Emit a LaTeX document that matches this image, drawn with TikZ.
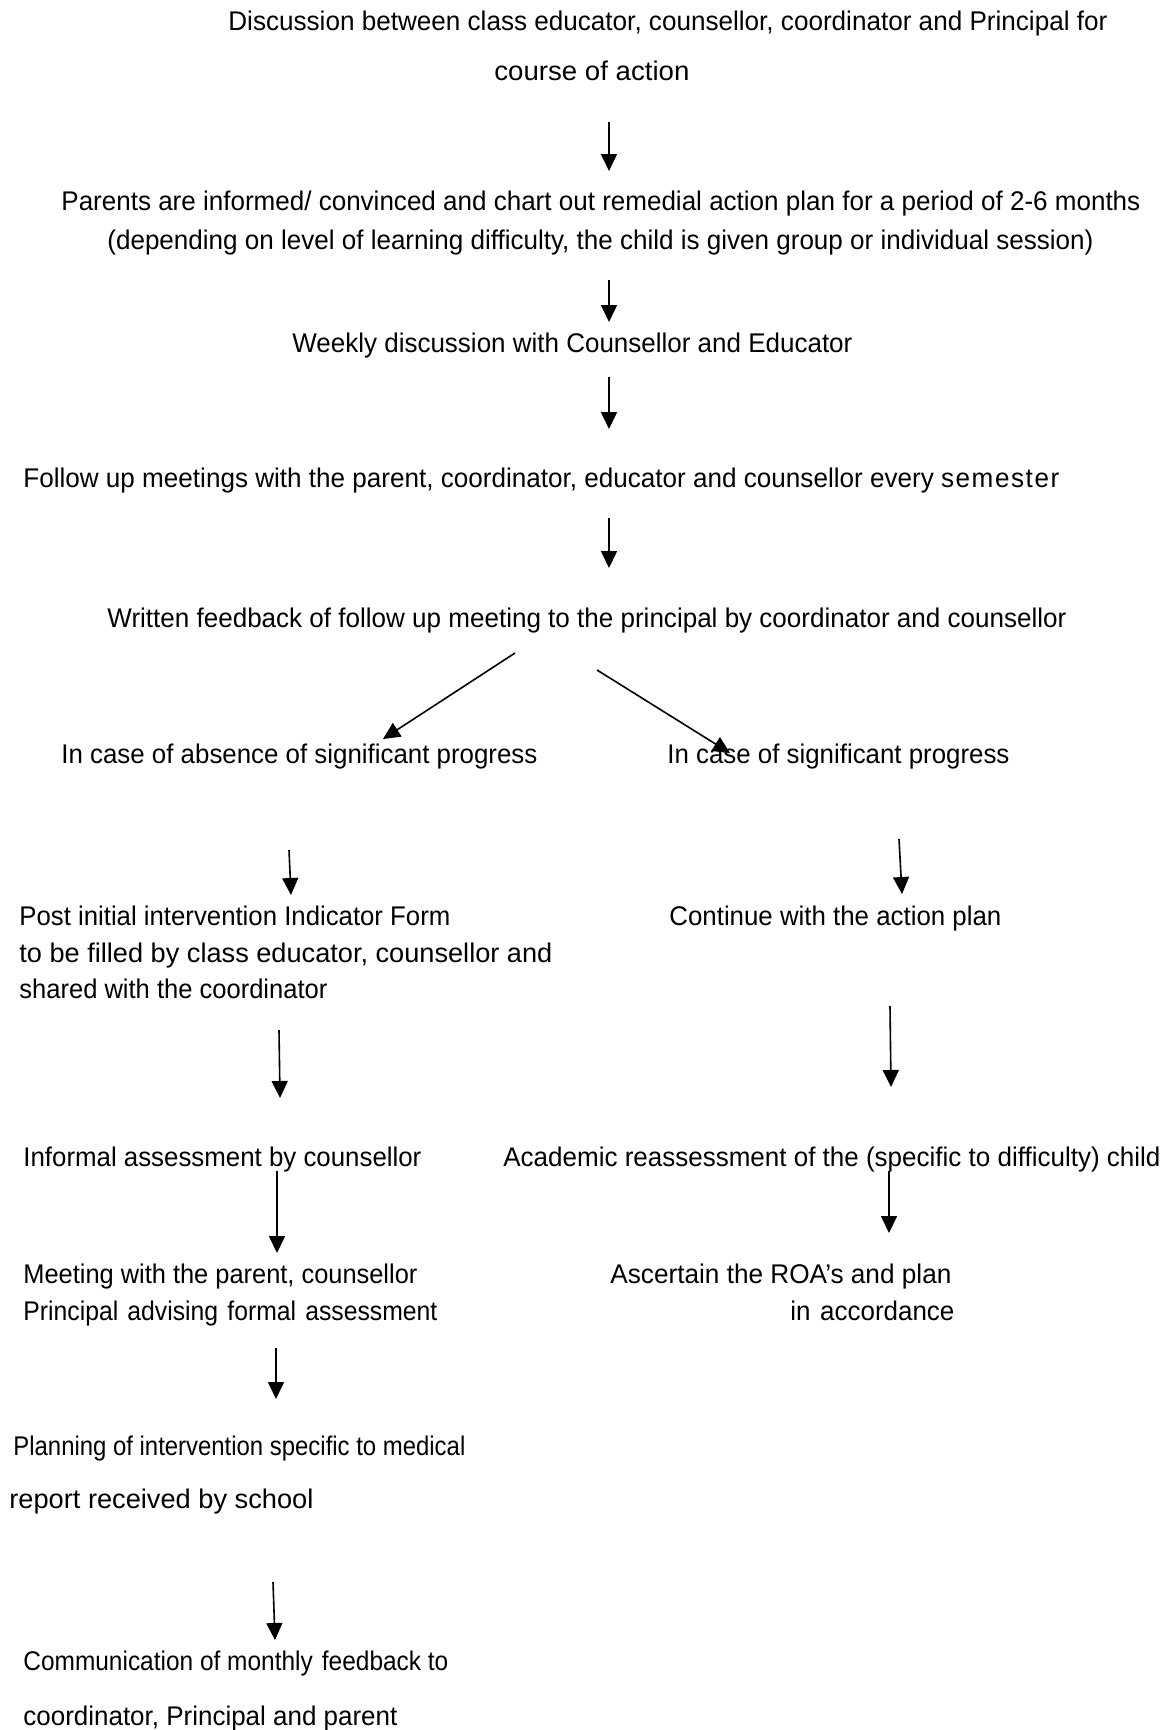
\documentclass[tikz,border=0pt]{standalone}
\usepackage{fontspec}
\usepackage{graphicx}
\setmainfont{Liberation Sans}
\usetikzlibrary{arrows.meta}
\newcommand\fitw[2]{\resizebox{#1pt}{\height}{#2}}
\begin{document}
\begin{tikzpicture}[x=0.5pt,y=-0.5pt,
  txt/.style={anchor=base west,inner sep=0pt,font=\fontsize{13.5}{16}\selectfont},
  arr/.style={-{Triangle[length=8.5pt,width=8pt]},line width=0.8pt}]
\useasboundingbox[fill=white] (0,0) rectangle (1169,1730);

% centre column
\node[txt] (d1) at (228,30) {\fitw{439.5}{Discussion between class educator, counsellor, coordinator and Principal for}};
\node[txt] (d2) at (494,80) {\fitw{97.5}{course of action}};
\node[txt] (p1) at (61,210) {\fitw{539.5}{Parents are informed/ convinced and chart out remedial action plan for a period of 2-6 months}};
\node[txt] (p2) at (107,249) {\fitw{493}{(depending on level of learning difficulty, the child is given group or individual session)}};
\node[txt] (w1) at (292,352) {\fitw{280}{Weekly discussion with Counsellor and Educator}};
\node[txt] (f1) at (23,487) {\fitw{518}{Follow up meetings with the parent, coordinator, educator and counsellor every {\addfontfeature{LetterSpace=6}semester}}};
\node[txt] (r1) at (107,627) {\fitw{479.5}{Written feedback of follow up meeting to the principal by coordinator and counsellor}};

% branches
\node[txt] (ab) at (61,763) {\fitw{238}{In case of absence of significant progress}};
\node[txt] (sg) at (667,763) {\fitw{171}{In case of significant progress}};

% left column
\node[txt] (l1a) at (19,925) {\fitw{215.5}{Post initial intervention Indicator Form}};
\node[txt] (l1b) at (19,962) {\fitw{266.5}{to be filled by class educator, counsellor and}};
\node[txt] (l1c) at (19,998) {\fitw{154}{shared with the coordinator}};
\node[txt] (l2) at (23,1166) {\fitw{199}{Informal assessment by counsellor}};
\node[txt] (l3a) at (23,1283) {\fitw{197}{Meeting with the parent, counsellor}};
\node[txt] (l3b) at (23,1320) {\fitw{207}{Principal\hspace{5pt}advising\hspace{5pt}formal\hspace{5pt}assessment}};
\node[txt] (l4a) at (13,1455) {\fitw{226}{Planning of intervention specific to medical}};
\node[txt] (l4b) at (9,1508) {\fitw{152}{report received by school}};
\node[txt] (l5a) at (23,1670) {\fitw{212.5}{Communication of monthly\hspace{5pt}feedback to}};
\node[txt] (l5b) at (23,1725) {\fitw{187}{coordinator, Principal and parent}};

% right column
\node[txt] (r1c) at (669,925) {\fitw{166}{Continue with the action plan}};
\node[txt] (r2c) at (503,1166) {\fitw{328.5}{Academic reassessment of the (specific to difficulty) child}};
\node[txt] (r3a) at (610,1283) {\fitw{170.5}{Ascertain the ROA’s and plan}};
\node[txt] (r3b) at (790,1320) {\fitw{82}{in\hspace{5pt}accordance}};

% arrow end points
\coordinate (a1s) at (609,122);  \coordinate (a1e) at (609,171);
\coordinate (a2s) at (609,280);  \coordinate (a2e) at (609,322);
\coordinate (a3s) at (609,377);  \coordinate (a3e) at (609,429);
\coordinate (a4s) at (609,518);  \coordinate (a4e) at (609,568);
\coordinate (bls) at (515,653);  \coordinate (ble) at (383,739);
\coordinate (brs) at (597,670);  \coordinate (bre) at (730,753);
\coordinate (l1s) at (289,850);  \coordinate (l1e) at (291,895);
\coordinate (l2s) at (279,1030); \coordinate (l2e) at (280,1098);
\coordinate (l3s) at (277,1171); \coordinate (l3e) at (277,1253);
\coordinate (l4s) at (276,1348); \coordinate (l4e) at (276,1399);
\coordinate (l5s) at (273,1582); \coordinate (l5e) at (275,1640);
\coordinate (r1s) at (899,839);  \coordinate (r1e) at (902,894);
\coordinate (r2s) at (890,1006); \coordinate (r2e) at (891,1087);
\coordinate (r3s) at (889,1171); \coordinate (r3e) at (889,1233);

\draw[arr] (a1s) -- (a1e);
\draw[arr] (a2s) -- (a2e);
\draw[arr] (a3s) -- (a3e);
\draw[arr] (a4s) -- (a4e);
\draw[arr] (bls) -- (ble);
\draw[arr] (brs) -- (bre);
\draw[arr] (l1s) -- (l1e);
\draw[arr] (l2s) -- (l2e);
\draw[arr] (l3s) -- (l3e);
\draw[arr] (l4s) -- (l4e);
\draw[arr] (l5s) -- (l5e);
\draw[arr] (r1s) -- (r1e);
\draw[arr] (r2s) -- (r2e);
\draw[arr] (r3s) -- (r3e);
\end{tikzpicture}
\end{document}
